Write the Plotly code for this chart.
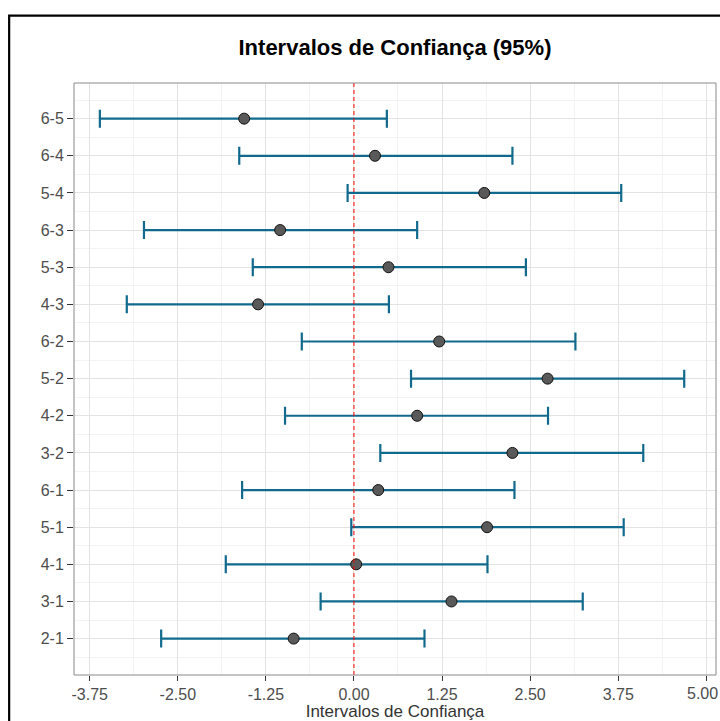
import plotly.graph_objects as go

# Comparisons (bottom to top)
comparisons = ["2-1", "3-1", "4-1", "5-1", "6-1", "3-2", "4-2", "5-2", "6-2",
               "4-3", "5-3", "6-3", "5-4", "6-4", "6-5"]
estimate = [-0.856, 1.384, 0.032, 1.889, 0.345, 2.249, 0.897, 2.748, 1.210,
            -1.361, 0.490, -1.048, 1.849, 0.299, -1.558]
lower = [-2.736, -0.473, -1.819, -0.038, -1.587, 0.374, -0.978, 0.810, -0.740,
         -3.224, -1.436, -2.980, -0.090, -1.628, -3.606]
upper = [1.001, 3.247, 1.895, 3.828, 2.278, 4.106, 2.754, 4.687, 3.143,
         0.496, 2.440, 0.897, 3.793, 2.249, 0.467]

x_ticks = [-3.75, -2.50, -1.25, 0.00, 1.25, 2.50, 3.75, 5.00]
x_ticktext = ["-3.75", "-2.50", "-1.25", "0.00", "1.25", "2.50", "3.75", "5.00"]

ypos = list(range(len(comparisons)))
err_plus = [u - e for u, e in zip(upper, estimate)]
err_minus = [e - l for e, l in zip(estimate, lower)]

fig = go.Figure()
fig.add_trace(go.Scatter(
    x=estimate, y=ypos, mode="markers",
    marker=dict(size=11, color="#595959", line=dict(color="#111111", width=1)),
    error_x=dict(type="data", symmetric=False, array=err_plus, arrayminus=err_minus,
                 color="#116a8d", thickness=2.2, width=9),
    hoverinfo="x+y", showlegend=False,
))

FONT = "Liberation Sans, Arial, sans-serif"
TICKFONT = dict(family=FONT, size=16, color="#4d4d4d")

# last tick label sits at the right page edge: draw it as an annotation
# nudged so that it stays inside the page
shown_ticktext = x_ticktext[:-1] + [""]

fig.update_layout(
    width=720, height=721,
    margin=dict(l=74, r=4, t=83, b=46),
    paper_bgcolor="white", plot_bgcolor="white",
    font=dict(family=FONT, color="#4d4d4d"),
    title=dict(text="<b>Intervalos de Confiança (95%)</b>", x=0.5, xref="paper",
               y=1 - 47 / 721, yref="container", yanchor="middle",
               font=dict(size=22, color="#000000", family=FONT)),
    xaxis=dict(range=[-3.973, 5.138], tickmode="array", tickvals=x_ticks,
               ticktext=shown_ticktext, ticks="outside", ticklen=5, tickcolor="#333333",
               tickwidth=1, tickfont=TICKFONT,
               showgrid=True, gridcolor="#e3e3e3", gridwidth=1,
               minor=dict(tickmode="linear", tick0=0.625, dtick=1.25, showgrid=True,
                          gridcolor="#f3f3f3", gridwidth=1, ticks=""),
               zeroline=False, showline=False,
               title=dict(text="Intervalos de Confiança", standoff=2,
                          font=dict(size=17, color="#333333"))),
    yaxis=dict(range=[-0.98, 14.96], tickmode="array", tickvals=ypos,
               ticktext=comparisons, ticks="outside", ticklen=6, tickcolor="#333333",
               tickwidth=1, tickfont=TICKFONT,
               showgrid=True, gridcolor="#e3e3e3", gridwidth=1,
               minor=dict(tickmode="linear", tick0=0.5, dtick=1, showgrid=True,
                          gridcolor="#f3f3f3", gridwidth=1, ticks=""),
               zeroline=False, showline=False),
    annotations=[
        dict(text=x_ticktext[-1], x=x_ticks[-1], xref="x", y=0, yref="paper",
             xanchor="center", yanchor="middle", xshift=-4, yshift=-18,
             showarrow=False, font=TICKFONT),
    ],
    shapes=[
        dict(type="line", xref="x", yref="paper", x0=0, x1=0, y0=0, y1=1,
             line=dict(color="#ff0000", width=1, dash="4px,3px")),
        dict(type="rect", xref="paper", yref="paper", x0=0, x1=1, y0=0, y1=1,
             line=dict(color="#8a8a8a", width=1), fillcolor="rgba(0,0,0,0)"),
        dict(type="rect", xref="paper", yref="paper", x0=-0.101, x1=1.3,
             y0=-0.3, y1=1.1137, line=dict(color="#000000", width=2.2),
             fillcolor="rgba(0,0,0,0)"),
    ],
)

post = (
    "document.body.style.margin='0px';document.body.style.padding='0px';"
    "document.documentElement.style.overflow='hidden';"
    "document.body.style.overflow='hidden';"
)

fig.write_html("out.html", config={"displayModeBar": False}, post_script=post)
